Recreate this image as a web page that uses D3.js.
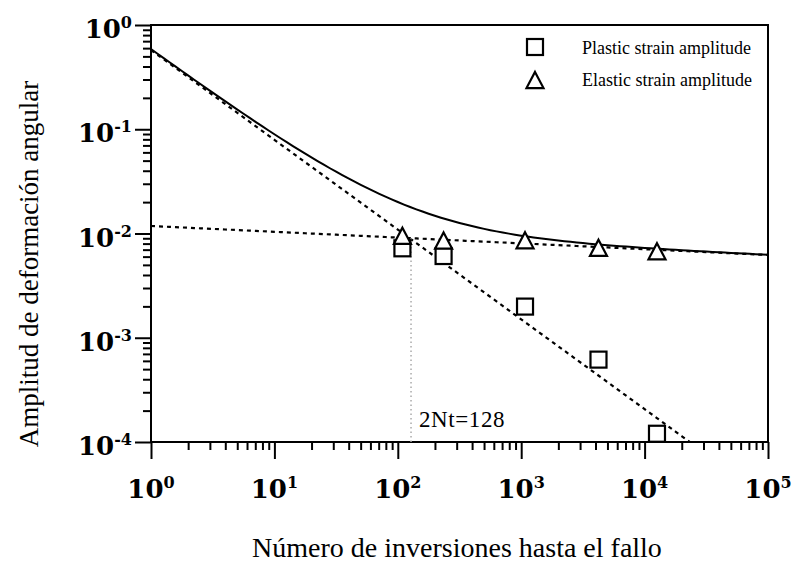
<!DOCTYPE html>
<html>
<head>
<meta charset="utf-8">
<script src="https://cdn.jsdelivr.net/npm/d3@7"></script>
<style>
  html, body { margin: 0; padding: 0; background: #fff; }
  svg { display: block; }
</style>
</head>
<body>
<svg id="chart" width="792" height="570"></svg>
<script>
// Reversals to failure (2N) for the tested specimens
const reversals = [109, 235, 1074, 4230, 12600];
// Measured strain amplitudes
const plasticAmp = [0.00721, 0.00608, 0.00199, 0.000617, 0.000120];
const elasticAmp = [0.00951, 0.00857, 0.00861, 0.00729, 0.00676];
// Fitted power laws: amplitude = coef * (2N)^exp
const plasticFit = { coef: 0.575, exp: -0.861 };
const elasticFit = { coef: 0.0118, exp: -0.0556 };
const transitionLife = 128;
const xTickExps = [0, 1, 2, 3, 4, 5];
const yTickExps = [0, -1, -2, -3, -4];
const legendLabels = ["Plastic strain amplitude", "Elastic strain amplitude"];

const svg = d3.select("#chart");
const L = 151, R = 768, T = 25, B = 442;
const x = d3.scaleLog().domain([1, 1e5]).range([L, R]);
const y = d3.scaleLog().domain([1e-4, 1]).range([B, T]);

const serif = "'Liberation Serif', 'Times New Roman', serif";
const tickFont = "'DejaVu Serif', 'Liberation Serif', serif";

// Minor ticks 2..9 in each decade
const minorX = [], minorY = [];
for (let e = 0; e < 5; e++) for (let k = 2; k <= 9; k++) minorX.push(k * Math.pow(10, e));
for (let e = -4; e < 0; e++) for (let k = 2; k <= 9; k++) minorY.push(k * Math.pow(10, e));
const majorX = xTickExps.map(e => Math.pow(10, e));
const majorY = yTickExps.map(e => Math.pow(10, e));

function styleAxis(g) {
  g.selectAll("path.domain").remove();
  g.selectAll("line").attr("stroke", "#000").attr("stroke-width", 2);
}

svg.append("g").attr("transform", `translate(0,${B})`)
  .call(d3.axisBottom(x).tickValues(minorX).tickSize(8).tickFormat("")).call(styleAxis);
svg.append("g").attr("transform", `translate(0,${B})`)
  .call(d3.axisBottom(x).tickValues(majorX).tickSize(17).tickFormat("")).call(styleAxis);
svg.append("g").attr("transform", `translate(${L},0)`)
  .call(d3.axisLeft(y).tickValues(minorY).tickSize(8).tickFormat("")).call(styleAxis);
svg.append("g").attr("transform", `translate(${L},0)`)
  .call(d3.axisLeft(y).tickValues(majorY).tickSize(16).tickFormat("")).call(styleAxis);

// Plot frame
svg.append("rect").attr("x", L).attr("y", T).attr("width", R - L).attr("height", B - T)
  .attr("fill", "none").attr("stroke", "#000").attr("stroke-width", 2);

// Tick labels with superscript exponents
xTickExps.forEach(e => {
  const t = svg.append("text").attr("x", x(Math.pow(10, e))).attr("y", 498)
    .attr("text-anchor", "middle").attr("font-family", tickFont).attr("font-weight", "bold")
    .attr("font-size", 26).attr("fill", "#000");
  t.append("tspan").text("10");
  t.append("tspan").attr("dy", -10).attr("font-size", 16).text(String(e));
});
yTickExps.forEach(e => {
  const t = svg.append("text").attr("x", 132).attr("y", y(Math.pow(10, e)) + 13)
    .attr("text-anchor", "end").attr("font-family", tickFont).attr("font-weight", "bold")
    .attr("font-size", 26).attr("fill", "#000");
  t.append("tspan").text("10");
  t.append("tspan").attr("dy", -10).attr("font-size", 16).text(e === 0 ? "0" : "-" + Math.abs(e));
});

// Clip for the fit lines
svg.append("clipPath").attr("id", "plotClip").append("rect")
  .attr("x", L).attr("y", T).attr("width", R - L).attr("height", B - T);
const plot = svg.append("g").attr("clip-path", "url(#plotClip)");

const fitVal = (f, n) => f.coef * Math.pow(n, f.exp);
const lineGen = d3.line().x(d => x(d[0])).y(d => y(d[1]));
const logSteps = d3.range(0, 5.0001, 0.05).map(v => Math.pow(10, v));

// Transition life marker
svg.append("line")
  .attr("x1", x(transitionLife)).attr("x2", x(transitionLife))
  .attr("y1", B).attr("y2", y(fitVal(elasticFit, transitionLife)))
  .attr("stroke", "#aaa").attr("stroke-width", 1.5).attr("stroke-dasharray", "1.5,3");

plot.append("path").datum(logSteps.map(n => [n, fitVal(plasticFit, n)]))
  .attr("d", lineGen).attr("fill", "none").attr("stroke", "#000")
  .attr("stroke-width", 2.2).attr("stroke-dasharray", "4,4");
plot.append("path").datum(logSteps.map(n => [n, fitVal(elasticFit, n)]))
  .attr("d", lineGen).attr("fill", "none").attr("stroke", "#000")
  .attr("stroke-width", 2.2).attr("stroke-dasharray", "4,4");
plot.append("path").datum(logSteps.map(n => [n, fitVal(plasticFit, n) + fitVal(elasticFit, n)]))
  .attr("d", lineGen).attr("fill", "none").attr("stroke", "#000").attr("stroke-width", 2);

// Markers
const sq = 16, tri = 17;
const triPath = (cx, cy) => {
  const h = tri * 0.95;
  return `M${cx},${cy - h / 2}L${cx + tri / 2},${cy + h / 2}L${cx - tri / 2},${cy + h / 2}Z`;
};
svg.append("g").selectAll("rect").data(reversals).join("rect")
  .attr("x", (d) => x(d) - sq / 2).attr("y", (d, i) => y(plasticAmp[i]) - sq / 2)
  .attr("width", sq).attr("height", sq)
  .attr("fill", "#fff").attr("stroke", "#000").attr("stroke-width", 2.2);
svg.append("g").selectAll("path").data(reversals).join("path")
  .attr("d", (d, i) => triPath(x(d), y(elasticAmp[i])))
  .attr("fill", "#fff").attr("stroke", "#000").attr("stroke-width", 2.2)
  .attr("stroke-linejoin", "miter");

// Annotation
svg.append("text").attr("x", 419).attr("y", 427).attr("font-family", serif)
  .attr("font-size", 23).attr("letter-spacing", 0.6).attr("fill", "#000").text("2Nt=128");

// Legend
const lg = svg.append("g");
lg.append("rect").attr("x", 535 - sq / 2).attr("y", 47 - sq / 2).attr("width", sq).attr("height", sq)
  .attr("fill", "#fff").attr("stroke", "#000").attr("stroke-width", 2.2);
lg.append("path").attr("d", triPath(535, 80)).attr("fill", "#fff")
  .attr("stroke", "#000").attr("stroke-width", 2.2);
legendLabels.forEach((s, i) => {
  lg.append("text").attr("x", 582).attr("y", 54 + i * 32).attr("font-family", serif)
    .attr("font-size", 18).attr("fill", "#000").text(s);
});

// Axis titles
svg.append("text").attr("x", 457).attr("y", 557).attr("text-anchor", "middle")
  .attr("font-family", serif).attr("font-size", 28).attr("fill", "#000")
  .text("Número de inversiones hasta el fallo");
svg.append("text").attr("transform", "translate(38,264) rotate(-90)").attr("text-anchor", "middle")
  .attr("font-family", serif).attr("font-size", 27).attr("fill", "#000")
  .text("Amplitud de deformación angular");
</script>
</body>
</html>
